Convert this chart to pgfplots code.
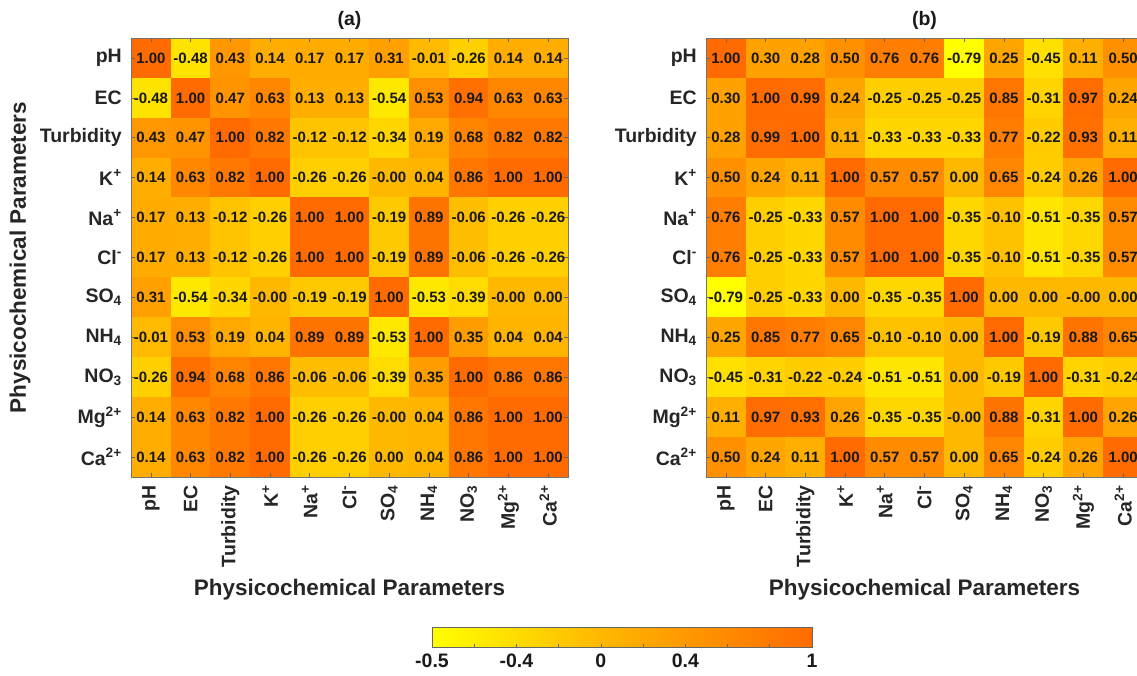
\documentclass[border=0pt]{standalone}
\usepackage{fontspec}
\setmainfont{Liberation Sans}
\usepackage{pgfplots}
\usepackage{pgfplotstable}
\pgfplotsset{compat=1.18}

\pgfplotstableread{
x y c
0 0 1.00
1 0 -0.48
2 0 0.43
3 0 0.14
4 0 0.17
5 0 0.17
6 0 0.31
7 0 -0.01
8 0 -0.26
9 0 0.14
10 0 0.14
0 1 -0.48
1 1 1.00
2 1 0.47
3 1 0.63
4 1 0.13
5 1 0.13
6 1 -0.54
7 1 0.53
8 1 0.94
9 1 0.63
10 1 0.63
0 2 0.43
1 2 0.47
2 2 1.00
3 2 0.82
4 2 -0.12
5 2 -0.12
6 2 -0.34
7 2 0.19
8 2 0.68
9 2 0.82
10 2 0.82
0 3 0.14
1 3 0.63
2 3 0.82
3 3 1.00
4 3 -0.26
5 3 -0.26
6 3 -0.00
7 3 0.04
8 3 0.86
9 3 1.00
10 3 1.00
0 4 0.17
1 4 0.13
2 4 -0.12
3 4 -0.26
4 4 1.00
5 4 1.00
6 4 -0.19
7 4 0.89
8 4 -0.06
9 4 -0.26
10 4 -0.26
0 5 0.17
1 5 0.13
2 5 -0.12
3 5 -0.26
4 5 1.00
5 5 1.00
6 5 -0.19
7 5 0.89
8 5 -0.06
9 5 -0.26
10 5 -0.26
0 6 0.31
1 6 -0.54
2 6 -0.34
3 6 -0.00
4 6 -0.19
5 6 -0.19
6 6 1.00
7 6 -0.53
8 6 -0.39
9 6 -0.00
10 6 0.00
0 7 -0.01
1 7 0.53
2 7 0.19
3 7 0.04
4 7 0.89
5 7 0.89
6 7 -0.53
7 7 1.00
8 7 0.35
9 7 0.04
10 7 0.04
0 8 -0.26
1 8 0.94
2 8 0.68
3 8 0.86
4 8 -0.06
5 8 -0.06
6 8 -0.39
7 8 0.35
8 8 1.00
9 8 0.86
10 8 0.86
0 9 0.14
1 9 0.63
2 9 0.82
3 9 1.00
4 9 -0.26
5 9 -0.26
6 9 -0.00
7 9 0.04
8 9 0.86
9 9 1.00
10 9 1.00
0 10 0.14
1 10 0.63
2 10 0.82
3 10 1.00
4 10 -0.26
5 10 -0.26
6 10 0.00
7 10 0.04
8 10 0.86
9 10 1.00
10 10 1.00
}\tableA

\pgfplotstableread{
x y c
0 0 1.00
1 0 0.30
2 0 0.28
3 0 0.50
4 0 0.76
5 0 0.76
6 0 -0.79
7 0 0.25
8 0 -0.45
9 0 0.11
10 0 0.50
0 1 0.30
1 1 1.00
2 1 0.99
3 1 0.24
4 1 -0.25
5 1 -0.25
6 1 -0.25
7 1 0.85
8 1 -0.31
9 1 0.97
10 1 0.24
0 2 0.28
1 2 0.99
2 2 1.00
3 2 0.11
4 2 -0.33
5 2 -0.33
6 2 -0.33
7 2 0.77
8 2 -0.22
9 2 0.93
10 2 0.11
0 3 0.50
1 3 0.24
2 3 0.11
3 3 1.00
4 3 0.57
5 3 0.57
6 3 0.00
7 3 0.65
8 3 -0.24
9 3 0.26
10 3 1.00
0 4 0.76
1 4 -0.25
2 4 -0.33
3 4 0.57
4 4 1.00
5 4 1.00
6 4 -0.35
7 4 -0.10
8 4 -0.51
9 4 -0.35
10 4 0.57
0 5 0.76
1 5 -0.25
2 5 -0.33
3 5 0.57
4 5 1.00
5 5 1.00
6 5 -0.35
7 5 -0.10
8 5 -0.51
9 5 -0.35
10 5 0.57
0 6 -0.79
1 6 -0.25
2 6 -0.33
3 6 0.00
4 6 -0.35
5 6 -0.35
6 6 1.00
7 6 0.00
8 6 0.00
9 6 -0.00
10 6 0.00
0 7 0.25
1 7 0.85
2 7 0.77
3 7 0.65
4 7 -0.10
5 7 -0.10
6 7 0.00
7 7 1.00
8 7 -0.19
9 7 0.88
10 7 0.65
0 8 -0.45
1 8 -0.31
2 8 -0.22
3 8 -0.24
4 8 -0.51
5 8 -0.51
6 8 0.00
7 8 -0.19
8 8 1.00
9 8 -0.31
10 8 -0.24
0 9 0.11
1 9 0.97
2 9 0.93
3 9 0.26
4 9 -0.35
5 9 -0.35
6 9 -0.00
7 9 0.88
8 9 -0.31
9 9 1.00
10 9 0.26
0 10 0.50
1 10 0.24
2 10 0.11
3 10 1.00
4 10 0.57
5 10 0.57
6 10 0.00
7 10 0.65
8 10 -0.24
9 10 0.26
10 10 1.00
}\tableB

\pgfplotstableread{
x y c
0 0 0
1 0 1
2 0 2
3 0 3
4 0 4
5 0 5
6 0 6
7 0 7
8 0 8
9 0 9
0 1 0
1 1 1
2 1 2
3 1 3
4 1 4
5 1 5
6 1 6
7 1 7
8 1 8
9 1 9
}\tableBar

\pgfplotsset{
  colormap={heat}{rgb255(0pt)=(255,255,0) rgb255(44pt)=(255,184,0) rgb255(100pt)=(255,107,0)},
  heatax/.style={
    scale only axis, width=437pt, height=439pt,
    anchor=south west,
    xmin=-0.5, xmax=10.5, ymin=-0.5, ymax=10.5, y dir=reverse,
    enlargelimits=false, axis on top,
    colormap name=heat, point meta min=-0.79, point meta max=1,
    xtick={0,...,10}, ytick={0,...,10},
    xticklabels={pH,EC,Turbidity,K\textsuperscript{+},Na\textsuperscript{+},Cl\textsuperscript{-},SO\textsubscript{4},NH\textsubscript{4},NO\textsubscript{3},Mg\textsuperscript{2+},Ca\textsuperscript{2+}},
    yticklabels={pH,EC,Turbidity,K\textsuperscript{+},Na\textsuperscript{+},Cl\textsuperscript{-},SO\textsubscript{4},NH\textsubscript{4},NO\textsubscript{3},Mg\textsuperscript{2+},Ca\textsuperscript{2+}},
    tickpos=both, tick align=inside, major tick length=4pt,
    tick style={black!60, line width=0.6pt},
    axis line style={black!55, line width=0.8pt},
    xticklabel style={rotate=90, anchor=east, inner sep=0pt, font=\bfseries\fontsize{19.5}{20}\selectfont, text=black!85},
    yticklabel style={anchor=east, inner sep=0pt, font=\bfseries\fontsize{19.5}{20}\selectfont, text=black!85},
    xticklabel shift=8pt, yticklabel shift=9pt,
    xlabel={Physicochemical Parameters},
    xlabel style={at={(axis description cs:0.5,-0.257)}, anchor=center, font=\bfseries\fontsize{22.5}{24}\selectfont, text=black!85},
    every axis title shift=0pt,
    title style={at={(axis description cs:0.5,1.04)}, anchor=center, font=\bfseries\fontsize{19.5}{20}\selectfont, text=black!90},
  },
  vallabels/.style={
    draw=none, mark=none, point meta=explicit symbolic,
    nodes near coords, nodes near coords align=center,
    every node near coord/.append style={font=\bfseries\fontsize{15}{15}\selectfont, text=black!90, inner sep=0pt},
  },
}

\begin{document}
\begin{tikzpicture}
\begin{axis}[at={(432pt,29pt)}, anchor=south west, scale only axis, width=380pt, height=20pt,
  xmin=0, xmax=9, ymin=0, ymax=1, enlargelimits=false, axis on top,
  colormap name=heat, point meta min=0, point meta max=9,
  xtick={0,2,4,6,9}, xticklabels={-0.5,-0.4,0,0.4,1}, minor xtick={1,3,5,7,8},
  ytick=\empty, xtick pos=left, tick align=inside,
  major tick length=3pt, minor tick length=3pt,
  tick style={black!60, line width=0.6pt},
  axis line style={black!60, line width=0.8pt},
  xticklabel style={inner sep=0pt, anchor=north, font=\bfseries\fontsize{19.5}{20}\selectfont, text=black!90},
  xticklabel shift=7pt]
\addplot[surf, shader=interp, mesh/cols=10, point meta=explicit] table[x=x, y=y, meta=c] {\tableBar};
\end{axis}

\begin{axis}[heatax, at={(131pt,199pt)}, title={(a)},
  ylabel={Physicochemical Parameters},
  ylabel style={at={(axis description cs:-0.254,0.5)}, anchor=center, font=\bfseries\fontsize{22.5}{24}\selectfont, text=black!85}]
\addplot[matrix plot*, mesh/cols=11, point meta=explicit] table[x=x, y=y, meta=c] {\tableA};
\addplot[vallabels] table[x=x, y=y, meta=c] {\tableA};
\end{axis}

\begin{axis}[heatax, at={(706pt,199pt)}, title={(b)}]
\addplot[matrix plot*, mesh/cols=11, point meta=explicit] table[x=x, y=y, meta=c] {\tableB};
\addplot[vallabels] table[x=x, y=y, meta=c] {\tableB};
\end{axis}
\pgfresetboundingbox
\useasboundingbox (0,0) rectangle (1137pt,676pt);
\end{tikzpicture}
\end{document}
